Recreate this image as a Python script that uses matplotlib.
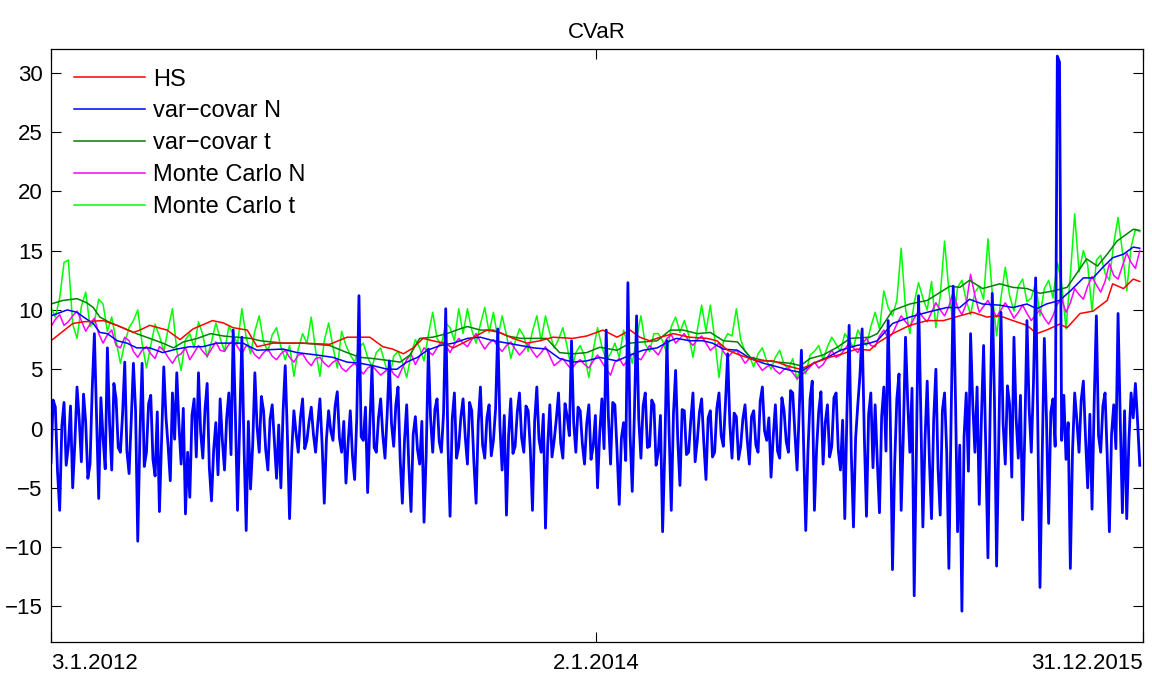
import numpy as np
import matplotlib
matplotlib.use("Agg")
import matplotlib.pyplot as plt

plt.rcParams['font.family'] = ['Liberation Sans', 'DejaVu Sans']

# x axis = trading day index, 3.1.2012 .. 31.12.2015
tick_days = [0, 503, 1007]
tick_labels = ["3.1.2012", "2.1.2014", "31.12.2015"]

# HS (historical simulation)
hs_days = [0, 20, 30, 48, 61, 76, 82, 91, 107, 119, 131, 149, 159, 168, 181, 190, 205, 232,
           257, 273, 294, 306, 315, 325, 334, 343, 352, 362, 371, 384, 402, 414, 426, 439,
           451, 463, 481, 494, 509, 522, 534, 543, 552, 562, 574, 589, 605, 614, 624, 635,
           651, 666, 682, 691, 706, 718, 730, 743, 755, 762, 776, 792, 808, 823, 838, 850,
           863, 875, 887, 900, 909, 918, 930, 937, 949, 961, 974, 979, 989, 998, 1004]
hs_vals = [7.4, 8.85, 9.0, 9.1, 8.7, 8.1, 8.3, 8.7, 8.3, 7.5, 8.4, 9.1, 8.9, 8.5, 8.3, 6.9,
           7.2, 7.2, 7.1, 7.7, 7.7, 6.9, 6.7, 6.3, 6.8, 7.6, 7.4, 7.2, 6.8, 7.4, 8.3, 8.1,
           7.6, 7.2, 7.4, 7.7, 7.6, 7.8, 8.3, 7.7, 8.3, 7.7, 7.4, 7.7, 8.0, 7.7, 7.6, 7.4,
           6.6, 6.2, 5.7, 5.7, 5.2, 5.0, 5.6, 6.0, 6.3, 6.7, 6.6, 7.2, 8.0, 8.7, 9.1, 9.1,
           9.5, 9.8, 9.4, 9.5, 9.1, 8.7, 8.0, 8.3, 8.8, 8.5, 9.7, 9.9, 10.8, 12.2, 11.8,
           12.6, 12.4]

# var-covar, normal
vcn_days = [0, 15, 24, 30, 39, 45, 52, 61, 70, 79, 91, 103, 116, 128, 140, 153, 165, 177,
            190, 214, 227, 245, 260, 273, 285, 297, 310, 319, 328, 338, 347, 359, 371, 384,
            396, 408, 421, 433, 445, 457, 469, 481, 494, 506, 522, 534, 546, 559, 571, 577,
            589, 601, 610, 620, 633, 645, 657, 670, 682, 691, 703, 716, 728, 743, 755, 762,
            776, 792, 808, 826, 838, 847, 859, 875, 887, 900, 909, 918, 930, 940, 952, 961,
            970, 979, 989, 998, 1004]
vcn_vals = [9.5, 10.0, 9.8, 9.4, 8.85, 8.1, 8.0, 7.4, 7.2, 6.8, 6.8, 6.4, 6.7, 6.9, 6.9, 7.2,
            7.2, 7.2, 6.6, 6.7, 6.4, 6.2, 6.0, 5.6, 5.5, 5.3, 5.0, 5.0, 5.6, 6.0, 6.6, 7.0,
            7.2, 7.6, 7.7, 7.4, 7.2, 7.0, 6.8, 6.7, 5.9, 5.6, 5.7, 6.0, 5.7, 6.2, 6.6, 6.8,
            7.4, 7.6, 7.4, 7.4, 7.2, 6.7, 6.6, 5.9, 5.5, 5.2, 4.9, 4.75, 5.5, 6.0, 6.6, 7.0,
            7.2, 7.4, 8.85, 9.4, 9.8, 10.2, 10.2, 10.9, 10.5, 10.4, 10.2, 10.5, 10.1, 10.5,
            10.8, 11.6, 12.7, 12.7, 13.6, 14.4, 14.7, 15.3, 15.2]

# var-covar, t
vct_days = [0, 11, 24, 33, 39, 45, 54, 66, 79, 91, 103, 113, 122, 135, 147, 159, 172, 184,
            193, 214, 232, 257, 273, 285, 297, 310, 322, 331, 340, 352, 365, 377, 384, 396,
            408, 421, 433, 445, 457, 469, 481, 494, 506, 522, 534, 546, 559, 571, 583, 596,
            608, 620, 633, 645, 657, 670, 682, 691, 700, 712, 725, 737, 755, 762, 776, 792,
            808, 829, 838, 847, 859, 875, 887, 900, 912, 924, 937, 946, 955, 965, 974, 983,
            992, 998, 1004]
vct_vals = [10.5, 10.8, 10.95, 10.6, 10.2, 9.4, 8.95, 8.5, 8.0, 7.6, 7.2, 6.8, 7.3, 7.6, 8.0,
            7.8, 7.7, 7.6, 7.4, 7.2, 7.2, 7.0, 6.4, 6.0, 5.9, 5.75, 5.6, 6.2, 7.6, 7.7, 8.0,
            8.4, 8.6, 8.3, 8.3, 7.8, 7.6, 7.6, 7.6, 6.4, 6.3, 6.4, 6.85, 6.6, 7.2, 7.3, 7.4,
            8.3, 8.3, 8.0, 8.1, 7.4, 7.3, 6.0, 5.75, 5.6, 5.5, 5.3, 5.9, 6.2, 6.85, 7.6, 7.7,
            8.0, 9.95, 10.5, 10.8, 12.0, 11.9, 12.5, 11.8, 12.2, 11.9, 11.8, 11.4, 11.6, 11.9,
            13.1, 14.3, 13.7, 14.7, 15.8, 16.4, 16.8, 16.7]

# Monte Carlo series, every 4th trading day
mc_days = list(range(0, 1005, 4))
mcn_vals = [8.6, 9.2, 9.6, 8.7, 9.0, 9.5, 9.9, 9.1, 8.2, 8.8, 9.3, 8.0, 7.2, 7.9, 8.3, 7.0, 6.8, 7.7, 7.4, 6.5,
            6.0, 6.6, 6.9, 6.3, 5.9, 6.9, 6.6, 6.0, 5.5, 6.1, 6.3, 6.8, 5.8, 6.4, 7.0, 6.5, 6.1, 6.7, 7.3, 6.6,
            6.5, 7.1, 7.4, 6.9, 6.3, 7.0, 6.8, 6.2, 5.9, 6.4, 6.7, 6.1, 5.8, 6.3, 6.6, 6.0, 5.6, 6.2, 6.3, 5.7,
            5.3, 5.9, 6.0, 5.5, 5.2, 5.6, 5.8, 5.1, 4.8, 5.2, 5.5, 5.0, 4.6, 5.1, 5.3, 4.9, 4.5, 4.8, 5.2, 4.6,
            4.3, 5.1, 5.8, 6.3, 5.4, 6.1, 6.8, 6.5, 6.2, 6.8, 7.3, 7.0, 6.4, 7.1, 7.6, 7.2, 6.9, 7.5, 8.0, 7.3,
            6.7, 7.2, 7.5, 6.9, 6.5, 7.0, 7.3, 6.7, 6.2, 6.6, 7.1, 6.5, 6.0, 6.4, 6.9, 6.1, 5.3, 5.6, 5.9, 5.4,
            5.0, 5.5, 5.8, 5.4, 5.1, 5.7, 6.2, 5.6, 5.0, 4.5, 5.6, 5.9, 5.3, 5.8, 6.3, 6.0, 5.8, 6.4, 7.0, 6.6,
            6.2, 6.9, 7.6, 7.9, 7.2, 7.6, 8.0, 7.4, 7.0, 7.5, 7.8, 7.2, 6.6, 6.9, 7.2, 6.5, 6.0, 6.4, 6.6, 6.1,
            5.5, 5.9, 6.0, 5.4, 4.9, 5.2, 5.4, 4.9, 4.6, 5.0, 5.1, 4.7, 4.2, 4.5, 4.8, 5.2, 5.6, 5.1, 5.4, 6.0,
            6.6, 6.0, 6.2, 6.7, 7.2, 6.8, 6.4, 7.1, 7.6, 7.0, 6.9, 7.8, 8.3, 7.6, 8.0, 8.8, 9.5, 9.0, 8.6, 9.3,
            9.9, 9.4, 9.0, 9.8, 10.6, 10.0, 9.5, 10.3, 11.5, 10.2, 9.6, 10.5, 13.0, 11.2, 9.8, 10.3, 10.8, 10.1, 9.4, 10.0,
            10.6, 10.0, 9.3, 9.8, 10.4, 9.7, 9.1, 9.6, 10.0, 9.3, 8.8, 9.5, 10.5, 10.9, 9.8, 10.6, 11.8, 11.3, 10.9, 12.0,
            12.8, 12.1, 11.5, 12.4, 13.9, 12.9, 12.6, 13.7, 14.8, 14.0, 13.5, 15.0]
mct_vals = [10.2, 9.4, 11.0, 14.0, 14.2, 8.8, 7.6, 10.3, 11.5, 8.6, 9.0, 10.9, 10.5, 8.2, 9.4, 7.4, 5.5, 7.2, 8.5, 9.1,
            10.0, 7.2, 5.1, 7.0, 8.8, 7.8, 6.5, 8.4, 10.1, 6.6, 4.9, 7.5, 8.0, 6.8, 9.0, 7.9, 6.0, 7.3, 8.9, 7.6,
            6.5, 8.6, 8.0, 7.1, 10.1, 7.7, 6.3, 8.2, 9.5, 7.3, 6.5, 7.9, 8.5, 6.9, 5.8, 7.0, 4.4, 6.7, 8.0, 7.2,
            9.4, 6.6, 4.4, 7.4, 8.9, 6.9, 5.1, 8.2, 7.0, 6.2, 5.6, 6.8, 7.2, 6.0, 5.2, 6.4, 6.8, 5.5, 4.2, 6.1,
            6.5, 5.6, 4.3, 6.2, 7.5, 6.8, 5.7, 7.9, 9.8, 7.6, 7.0, 8.9, 8.5, 7.4, 10.1, 8.0, 10.1, 8.3, 7.2, 8.8,
            10.2, 8.1, 9.8, 7.6, 9.5, 7.9, 5.9, 7.3, 8.4, 7.8, 6.5, 8.2, 9.5, 7.4, 9.5, 8.0, 6.8, 7.5, 8.5, 6.9,
            4.9, 6.4, 7.0, 6.1, 4.3, 6.6, 8.5, 6.9, 5.8, 6.3, 7.2, 6.0, 8.3, 7.0, 5.5, 7.6, 9.5, 7.1, 6.5, 8.0,
            8.0, 7.4, 6.3, 8.6, 9.4, 8.1, 9.1, 7.9, 6.0, 8.3, 10.4, 8.2, 10.4, 7.6, 4.3, 7.3, 8.0, 7.8, 10.1, 7.5,
            6.5, 6.1, 5.2, 6.3, 6.8, 5.7, 5.0, 6.0, 6.6, 5.4, 5.0, 5.9, 4.1, 5.5, 4.6, 6.2, 6.5, 7.0, 5.8, 6.9,
            7.7, 7.1, 6.5, 8.0, 7.5, 6.8, 8.3, 7.6, 7.0, 8.6, 9.8, 8.4, 11.6, 10.2, 9.5, 10.8, 15.2, 10.1, 8.0, 10.6,
            12.3, 11.0, 10.0, 12.4, 8.5, 11.2, 15.8, 11.6, 8.8, 11.9, 12.5, 10.8, 9.6, 11.5, 12.0, 10.9, 16.0, 11.4, 7.8, 11.0,
            13.6, 11.2, 9.9, 12.0, 12.6, 10.7, 11.0, 12.3, 9.5, 11.8, 12.5, 11.0, 14.0, 12.2, 8.4, 12.9, 18.1, 13.2, 15.0, 13.8,
            9.9, 14.2, 14.6, 13.1, 12.5, 15.6, 17.8, 14.9, 11.6, 15.3, 16.8, 16.6]

# daily loss series (thick blue), every 2nd trading day
ret_days = list(range(0, 1005, 2))
ret_vals = [-2.9, 2.4, 1.8, -3.6, -6.9, 0.2, 2.2, -3.1, -1.5, 1.9, -5.0, -1.2, 3.5, 0.8, -2.8, 2.9, 0.5, -4.2, -3.0, 3.3,
            8.0, 1.0, -5.9, 2.6, -0.8, -3.4, 6.8, 0.5, -3.5, 3.8, 2.5, -1.6, -2.0, 1.2, 5.6, -1.9, -3.8, 0.7, 5.5, 1.5,
            -9.5, -0.6, 5.5, -3.2, -2.0, 2.1, 2.8, -2.6, -4.0, 1.4, -7.0, -0.8, 5.2, 1.0, -1.5, -4.4, 3.0, -0.9, 4.7, 0.3,
            -3.0, 1.7, -7.2, -2.0, -5.8, 1.1, 2.5, -2.4, 4.7, -0.3, -2.5, 1.6, 3.8, -3.3, -6.1, -1.8, 0.5, -3.9, 2.5, -1.0,
            -3.5, 0.9, 3.0, -2.2, 8.3, 1.3, -6.9, 0.4, 7.7, -1.5, -8.6, 0.6, -5.1, -1.4, 4.7, 0.2, -2.0, 2.7, 1.5, -1.8,
            -3.5, 0.8, 2.0, -1.1, -4.2, 0.3, -5.0, 1.4, 5.3, -0.6, -7.6, -1.9, 1.5, -0.4, -2.0, 0.9, 2.5, -1.7, -1.0, 0.6,
            1.8, -0.5, -2.0, 0.4, 2.5, -1.3, -6.3, -0.9, 1.5, -0.2, -1.0, 1.9, 3.1, -0.8, -2.0, 0.6, -4.6, -1.2, 1.5, -2.3,
            -4.3, 1.0, 11.2, -0.7, -1.0, 1.8, -5.4, 0.3, 5.2, -1.6, -2.0, 0.9, 2.5, -0.6, -2.5, 1.2, 5.7, 0.4, -1.5, 2.0,
            3.5, -2.6, -6.3, -1.0, 2.0, -3.2, -7.0, -0.5, 1.0, -1.8, -3.0, 0.6, -7.9, -2.1, 6.7, 0.9, -2.0, 1.6, 2.5, -1.1,
            -2.0, 1.3, 10.1, -1.2, -7.4, 0.8, 3.0, -2.5, -1.5, 1.0, 2.5, -0.7, -3.0, 2.2, 1.5, -2.9, -6.3, 0.5, 3.5, -1.4,
            -2.5, 0.9, 2.0, -2.3, -1.0, 1.7, 8.4, 0.2, -3.5, 1.1, -7.3, -0.6, 2.5, -2.1, -1.5, 1.4, 3.0, -0.8, -2.0, 1.9,
            1.5, -1.7, -6.9, 0.6, 3.5, -0.9, -2.0, 1.2, -8.4, -1.5, 2.0, -2.4, -1.0, 0.8, 3.0, -1.2, -2.5, 2.1, 1.0, -0.6,
            7.4, 0.5, -2.0, 1.8, 1.5, -1.3, -3.0, 0.4, 2.0, -2.6, -1.5, 1.1, -5.0, -0.4, 2.5, -1.7, 8.3, 1.0, -3.0, 2.2,
            2.0, -1.9, -6.4, -0.8, 0.5, -2.7, 12.3, -0.5, -5.3, 1.3, 9.5, 0.8, -2.5, 1.9, 3.0, -1.6, -1.5, 2.4, 2.0, -3.1,
            -2.0, 1.1, -8.7, -1.9, 7.4, -0.3, -6.9, 1.2, 4.9, -1.0, -4.8, 1.6, 1.5, -2.2, -2.0, 0.7, 3.0, -2.8, -1.0, 1.4,
            2.5, -1.2, -4.3, 0.9, 1.5, -2.4, -2.0, 1.7, 3.0, -0.6, -1.5, 2.2, 6.3, 0.4, -2.5, 1.3, 1.0, -2.6, -1.5, 0.8,
            2.0, -0.9, -3.0, 1.0, 1.5, -1.4, -2.0, 2.3, 3.5, -0.2, -1.0, 0.9, -4.1, -0.7, 2.0, -1.9, -2.5, 2.6, 1.5, -1.1,
            -2.0, 3.2, 3.0, -0.4, -3.5, 1.6, 6.6, -1.3, -8.6, -2.0, 2.5, 4.0, -6.9, -1.7, 1.5, 3.1, -3.0, 0.5, 2.0, -2.4,
            -1.5, 2.6, 3.0, -1.8, -3.5, 0.7, -7.6, 1.4, 8.7, -2.1, -8.3, -0.8, 2.0, 4.5, 8.4, -0.6, -7.4, 1.2, 3.0, -3.3,
            2.0, -2.8, -7.1, 1.0, 3.5, -1.9, 9.1, 0.7, -11.9, -3.0, 2.5, 4.6, -6.9, -0.5, 7.7, 2.3, -2.0, 3.4, -14.1, -2.2,
            11.2, 1.8, -8.3, -0.9, 4.0, -2.6, -7.6, 0.8, 5.0, -3.4, -7.3, 1.5, 3.0, -2.0, -11.8, 0.6, 12.0, 2.9, -8.7, -1.4,
            -15.4, -0.7, 3.0, -3.6, 8.0, 2.1, -2.0, 3.5, -6.4, 0.9, 7.0, -1.6, -10.9, 1.1, 11.4, 2.5, -11.6, -1.0, 9.8, 0.4,
            -3.0, 3.6, 2.0, -4.1, 7.7, 0.9, -2.5, 2.8, -7.7, -0.4, 9.1, 1.7, -2.0, 3.9, 12.7, 0.2, -13.4, -2.6, 7.6, 0.8,
            -8.0, 1.4, 2.5, -1.5, 31.4, 30.9, -1.0, 2.8, -2.6, 0.5, -11.8, -1.9, 3.0, 0.7, -2.0, 2.4, 4.0, -0.8, -5.0, 1.2,
            -6.8, 2.2, 9.5, -0.6, -2.0, 1.9, 3.0, -2.3, -8.7, -0.5, 2.0, -1.7, 9.7, 0.8, -7.1, 1.5, -7.6, -1.0, 3.0, 0.9,
            3.8, 0.6, -3.1]

fig = plt.figure(figsize=(11.52, 6.75), dpi=100)
ax = fig.add_axes([51 / 1152, 33 / 675, 1092 / 1152, 593 / 675])

l_mct, = ax.plot(mc_days, mct_vals, color='#00ff00', lw=1.1, label='Monte Carlo t')
l_mcn, = ax.plot(mc_days, mcn_vals, color='#ff00ff', lw=1.1, label='Monte Carlo N')
l_vct, = ax.plot(vct_days, vct_vals, color='#008000', lw=1.1, label='var\u2212covar t')
l_vcn, = ax.plot(vcn_days, vcn_vals, color='#0000ff', lw=1.1, label='var\u2212covar N')
l_hs, = ax.plot(hs_days, hs_vals, color='#ff0000', lw=1.1, label='HS')
ax.plot(ret_days, ret_vals, color='#0000ff', lw=2.0)

ax.set_xlim(0, 1007)
ax.set_ylim(-18, 32)
ax.set_yticks(np.arange(-15, 31, 5))
ax.set_yticklabels([str(v).replace('-', '\u2212') for v in range(-15, 31, 5)])
ax.set_xticks(tick_days)
ax.set_xticklabels(tick_labels)
xl = ax.get_xticklabels()
xl[0].set_ha('left')
xl[-1].set_ha('right')

ax.tick_params(direction='in', length=7, width=0.8, labelsize=16, top=True, right=True, pad=6)
ax.tick_params(axis='x', pad=8)
for s in ax.spines.values():
    s.set_linewidth(0.9)

ax.set_title('CVaR', fontsize=16, pad=8)

ax.legend(handles=[l_hs, l_vcn, l_vct, l_mcn, l_mct], loc='upper left',
          bbox_to_anchor=(0.021, 0.967), frameon=False, fontsize=17,
          handlelength=3.0, handletextpad=0.34, labelspacing=0.42, borderpad=0,
          borderaxespad=0)

fig.savefig('out.png', dpi=100)
